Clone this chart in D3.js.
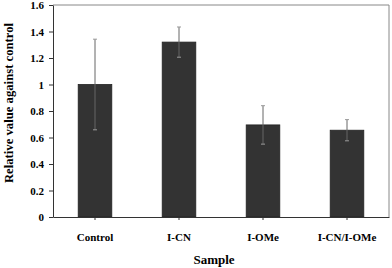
<!DOCTYPE html>
<html>
<head>
<meta charset="utf-8">
<script src="https://cdn.jsdelivr.net/npm/d3@7"></script>
<style>
  body { margin: 0; background: #fff; }
</style>
</head>
<body>
<svg id="canvas"></svg>
<script>
let samples = ['Control', 'I-CN', 'I-OMe', 'I-CN/I-OMe'];
let means = [1.0, 1.32, 0.695, 0.655];
let errors = [0.342, 0.114, 0.145, 0.08];
let yTicks = [0, 0.2, 0.4, 0.6, 0.8, 1, 1.2, 1.4, 1.6];

let width = 392;
let height = 268;
let padLeft = 53, padRight = 389, padTop = 5, padBottom = 217;
let serif = '"Liberation Serif", "Times New Roman", Times, "DejaVu Serif", serif';

let svg = d3.select('#canvas')
    .attr('width', width)
    .attr('height', height);

let xScale = d3.scaleBand()
    .domain(samples)
    .range([padLeft, padRight])
    .paddingInner(0.6)
    .paddingOuter(0.3);

let yScale = d3.scaleLinear()
    .domain([0, 1.6])
    .range([padBottom, padTop]);

/*frame: top and right borders in grey*/
svg.append('path')
    .attr('d', 'M' + padLeft + ',' + padTop + 'H' + padRight + 'V' + padBottom)
    .attr('fill', 'none')
    .attr('stroke', '#888')
    .attr('stroke-width', 1);

/*bars*/
svg.selectAll('rect.bar')
    .data(means)
    .enter()
    .append('rect')
    .attr('class', 'bar')
    .attr('x', (d, i) => xScale(samples[i]))
    .attr('width', xScale.bandwidth())
    .attr('y', d => yScale(d))
    .attr('height', d => padBottom - yScale(d))
    .attr('fill', '#333')
    .attr('stroke', '#222')
    .attr('stroke-width', 0.8);

/*error bars*/
let eb = svg.selectAll('g.err')
    .data(means)
    .enter()
    .append('g')
    .attr('class', 'err')
    .attr('stroke', '#666')
    .attr('stroke-width', 1);

eb.append('line')
    .attr('x1', (d, i) => xScale(samples[i]) + xScale.bandwidth() / 2)
    .attr('x2', (d, i) => xScale(samples[i]) + xScale.bandwidth() / 2)
    .attr('y1', (d, i) => yScale(d + errors[i]))
    .attr('y2', (d, i) => yScale(d - errors[i]));

[1, -1].forEach(s => {
    eb.append('line')
        .attr('x1', (d, i) => xScale(samples[i]) + xScale.bandwidth() / 2 - 2)
        .attr('x2', (d, i) => xScale(samples[i]) + xScale.bandwidth() / 2 + 2)
        .attr('y1', (d, i) => yScale(d + s * errors[i]))
        .attr('y2', (d, i) => yScale(d + s * errors[i]))
        .attr('stroke', '#999');
});

/*axes*/
let yAxis = d3.axisLeft(yScale)
    .tickValues(yTicks)
    .tickFormat(d => String(+d.toFixed(1)))
    .tickSize(4)
    .tickSizeOuter(0)
    .tickPadding(5);

let gy = svg.append('g')
    .attr('transform', 'translate(' + padLeft + ',0)')
    .call(yAxis)
    .attr('font-family', serif)
    .attr('font-weight', 'bold')
    .attr('font-size', 11);
gy.selectAll('text').attr('fill', '#000');
gy.selectAll('line, path').attr('stroke', '#333');

let xAxis = d3.axisBottom(xScale)
    .tickSize(3)
    .tickSizeOuter(0)
    .tickPadding(13);

let gx = svg.append('g')
    .attr('transform', 'translate(0,' + padBottom + ')')
    .call(xAxis)
    .attr('font-family', serif)
    .attr('font-weight', 'bold')
    .attr('font-size', 11);
gx.selectAll('text').attr('fill', '#000');
gx.selectAll('line, path').attr('stroke', '#333');

/*axis titles*/
svg.append('text')
    .attr('x', 214)
    .attr('y', 264)
    .attr('text-anchor', 'middle')
    .attr('font-family', serif)
    .attr('font-weight', 'bold')
    .attr('font-size', 13)
    .text('Sample');

svg.append('text')
    .attr('transform', 'translate(13,103) rotate(-90)')
    .attr('text-anchor', 'middle')
    .attr('font-family', serif)
    .attr('font-weight', 'bold')
    .attr('font-size', 12.7)
    .text('Relative value against control');
</script>
</body>
</html>
